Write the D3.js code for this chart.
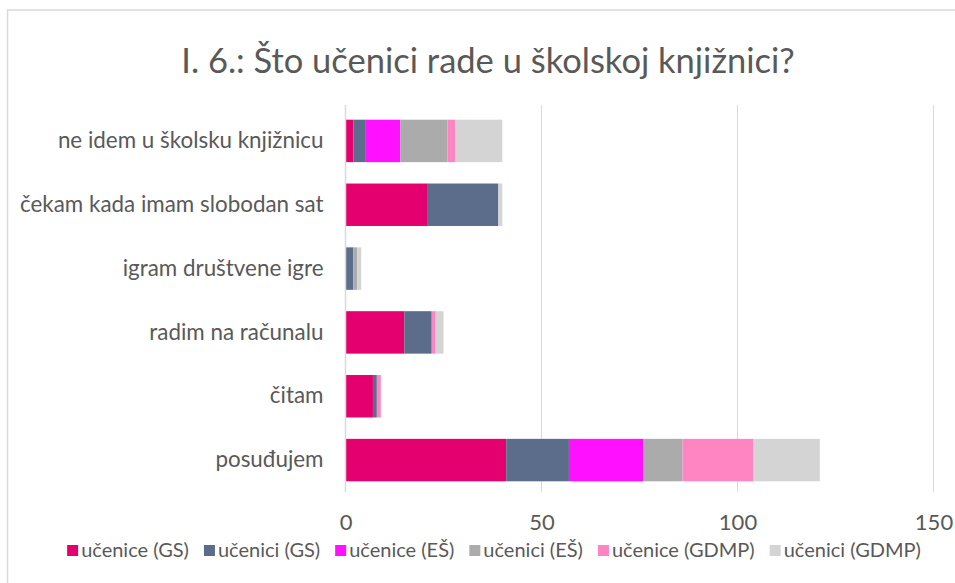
<!DOCTYPE html>
<html>
<head>
<meta charset="utf-8">
<script src="https://cdn.jsdelivr.net/npm/d3@7"></script>
<style>
  html, body { margin: 0; padding: 0; background: #fff; }
  svg { display: block; }
  text { font-family: Lato, "Open Sans", sans-serif; fill: #595959; }
</style>
</head>
<body>
<svg id="chart" width="955" height="583"></svg>
<script>
// Activities, listed bottom to top as in the source sheet
const categories = [
  "posuđujem",
  "čitam",
  "radim na računalu",
  "igram društvene igre",
  "čekam kada imam slobodan sat",
  "ne idem u školsku knjižnicu"
];

const seriesNames = [
  "učenice (GS)", "učenici (GS)",
  "učenice (EŠ)", "učenici (EŠ)",
  "učenice (GDMP)", "učenici (GDMP)"
];

const seriesColors = ["#E5006F", "#5B6D8A", "#FF10FF", "#ABABAB", "#FF85C2", "#D4D4D4"];

// one value per category, same order as categories
const ucenice_GS   = [41, 7, 15, 0, 21, 2];
const ucenici_GS   = [16, 1, 7, 2, 18, 3];
const ucenice_ES   = [19, 0, 0, 0, 0, 9];
const ucenici_ES   = [10, 0, 0, 1, 0, 12];
const ucenice_GDMP = [18, 1, 1, 0, 0, 2];
const ucenici_GDMP = [17, 0, 2, 1, 1, 12];

const xTicks = [0, 50, 100, 150];
const title = "I. 6.: Što učenici rade u školskoj knjižnici?";

const seriesValues = [ucenice_GS, ucenici_GS, ucenice_ES, ucenici_ES, ucenice_GDMP, ucenici_GDMP];

const rows = categories.map((c, i) => {
  const r = { category: c };
  seriesNames.forEach((s, j) => { r[s] = seriesValues[j][i]; });
  return r;
});

const svg = d3.select("#chart");
const W = 955, H = 583;

// chart frame
svg.append("rect")
  .attr("x", 7.5).attr("y", 10)
  .attr("width", W + 10).attr("height", H + 10)
  .attr("fill", "#fff")
  .attr("stroke", "#D9D9D9").attr("stroke-width", 1.5);

const plot = { left: 345.5, right: 933.5, top: 109, bottom: 492 };

const x = d3.scaleLinear().domain([0, 150]).range([plot.left, plot.right]);
const y = d3.scaleBand()
  .domain(categories.slice().reverse())
  .range([plot.top, plot.bottom])
  .paddingInner(0.335).paddingOuter(0.1675);

// title
svg.append("text")
  .attr("x", 488).attr("y", 73)
  .attr("text-anchor", "middle")
  .style("font-size", "34.5px")
  .text(title);

// vertical gridlines
svg.append("g")
  .selectAll("line")
  .data(xTicks.slice(1))
  .join("line")
  .attr("x1", d => x(d)).attr("x2", d => x(d))
  .attr("y1", plot.top - 4).attr("y2", plot.bottom)
  .attr("stroke", "#D9D9D9").attr("stroke-width", 1);

// stacked bars
const stack = d3.stack().keys(seriesNames);
const layers = stack(rows);

svg.append("g")
  .selectAll("g")
  .data(layers)
  .join("g")
  .attr("fill", (d, i) => seriesColors[i])
  .selectAll("rect")
  .data(d => d)
  .join("rect")
  .attr("x", d => x(d[0]))
  .attr("y", d => y(d.data.category))
  .attr("width", d => x(d[1]) - x(d[0]))
  .attr("height", y.bandwidth());

// vertical axis line at zero
svg.append("line")
  .attr("x1", x(0)).attr("x2", x(0))
  .attr("y1", plot.top - 4).attr("y2", plot.bottom)
  .attr("stroke", "#D9D9D9").attr("stroke-width", 1.5);

// x axis tick labels
const xAxis = d3.axisBottom(x).tickValues(xTicks).tickSize(0).tickPadding(0);
const gx = svg.append("g").attr("transform", `translate(0,${plot.bottom})`).call(xAxis);
gx.select(".domain").remove();
gx.selectAll("text")
  .attr("dy", null)
  .attr("y", 38)
  .style("font-size", "22px")
  .attr("fill", "#595959");

// category labels
const yAxis = d3.axisLeft(y).tickSize(0).tickPadding(0);
const gy = svg.append("g").attr("transform", `translate(${plot.left - 22},0)`).call(yAxis);
gy.select(".domain").remove();
gy.selectAll("text")
  .style("font-size", "22.4px")
  .attr("fill", "#595959");

// legend
const legend = svg.append("g");
const items = legend.selectAll("g").data(seriesNames).join("g");
items.append("rect")
  .attr("width", 11).attr("height", 11)
  .attr("y", -5)
  .attr("fill", (d, i) => seriesColors[i]);
items.append("text")
  .attr("x", 14).attr("y", 0).attr("dy", "0.35em")
  .style("font-size", "20px")
  .text(d => d);

const gap = 15;
let cursor = 0;
items.each(function () {
  const g = d3.select(this);
  g.attr("transform", `translate(${cursor},0)`);
  cursor += 14 + g.select("text").node().getComputedTextLength() + gap;
});
const totalW = cursor - gap;
legend.attr("transform", `translate(${494 - totalW / 2},550)`);
</script>
</body>
</html>
